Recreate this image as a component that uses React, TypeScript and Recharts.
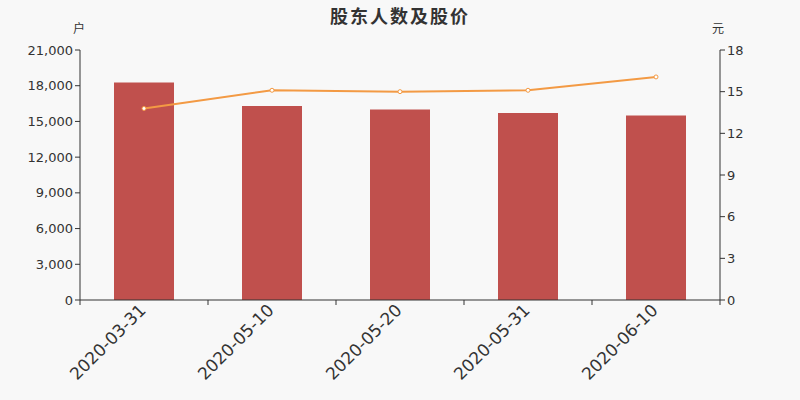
import React from 'react';
import { ComposedChart, Bar, Line, XAxis, YAxis } from 'recharts';

const categories = ['2020-03-31', '2020-05-10', '2020-05-20', '2020-05-31', '2020-06-10'];
const holders = [18270, 16300, 16000, 15710, 15500];
const prices = [13.79, 15.1, 15.0, 15.1, 16.06];
const leftTicks = [0, 3000, 6000, 9000, 12000, 15000, 18000, 21000];
const rightTicks = [0, 3, 6, 9, 12, 15, 18];

const data = categories.map((c, i) => ({ date: c, holders: holders[i], price: prices[i] }));

const FONT = '"DejaVu Sans", "Noto Sans CJK SC", sans-serif';

const XTick = (props: any) => {
  const { x, y, payload, index, visibleTicksCount } = props;
  const off = payload && typeof payload.offset === 'number' && payload.offset > 0 ? payload.offset : 64;
  const last = index === (visibleTicksCount ?? categories.length) - 1;
  return (
    <g transform={`translate(${x},${y})`}>
      <line x1={-off} x2={-off} y1={-7} y2={-2} stroke="#333" />
      {last && <line x1={off} x2={off} y1={-7} y2={-2} stroke="#333" />}
      <text x={0} y={0} dx={-1} dy={5} textAnchor="end" fill="#333" fontSize={17} fontFamily={FONT} transform="rotate(-45)">
        {payload.value}
      </text>
    </g>
  );
};

export default function App() {
  return (
    <div style={{ position: 'absolute', left: 0, top: 0, width: 800, height: 400, background: '#f8f8f8', fontFamily: FONT }}>
      <div style={{ position: 'absolute', left: 0, top: 2, width: 800, textAlign: 'center', fontSize: 18, letterSpacing: 2, fontWeight: 'bold', color: '#333' }}>股东人数及股价</div>
      <div style={{ position: 'absolute', left: 73, top: 19, fontSize: 12, color: '#333' }}>户</div>
      <div style={{ position: 'absolute', left: 712, top: 19, fontSize: 12, color: '#333' }}>元</div>
      <ComposedChart width={800} height={400} data={data} margin={{ top: 50, right: 20, bottom: 0, left: 20 }}>
        <XAxis dataKey="date" height={100} tick={<XTick />} interval={0} axisLine={{ stroke: '#333' }} tickLine={false} tickSize={5} />
        <YAxis yAxisId="left" width={60} domain={[0, 21000]} ticks={leftTicks} interval={0}
          tickFormatter={(v: number) => v.toLocaleString('en-US')}
          tick={{ fill: '#333', fontSize: 13, fontFamily: FONT }} axisLine={{ stroke: '#333' }} tickLine={{ stroke: '#333' }} tickSize={5} />
        <YAxis yAxisId="right" orientation="right" width={60} domain={[0, 18]} ticks={rightTicks} interval={0}
          tick={{ fill: '#333', fontSize: 13, fontFamily: FONT }} axisLine={{ stroke: '#333' }} tickLine={{ stroke: '#333' }} tickSize={5} />
        <Bar yAxisId="left" dataKey="holders" fill="#c0504d" barSize={60} isAnimationActive={false} />
        <Line yAxisId="right" dataKey="price" stroke="#f39a44" strokeWidth={2} dot={{ r: 2, fill: '#fff', stroke: '#f39a44', strokeWidth: 1 }} isAnimationActive={false} />
      </ComposedChart>
    </div>
  );
}
